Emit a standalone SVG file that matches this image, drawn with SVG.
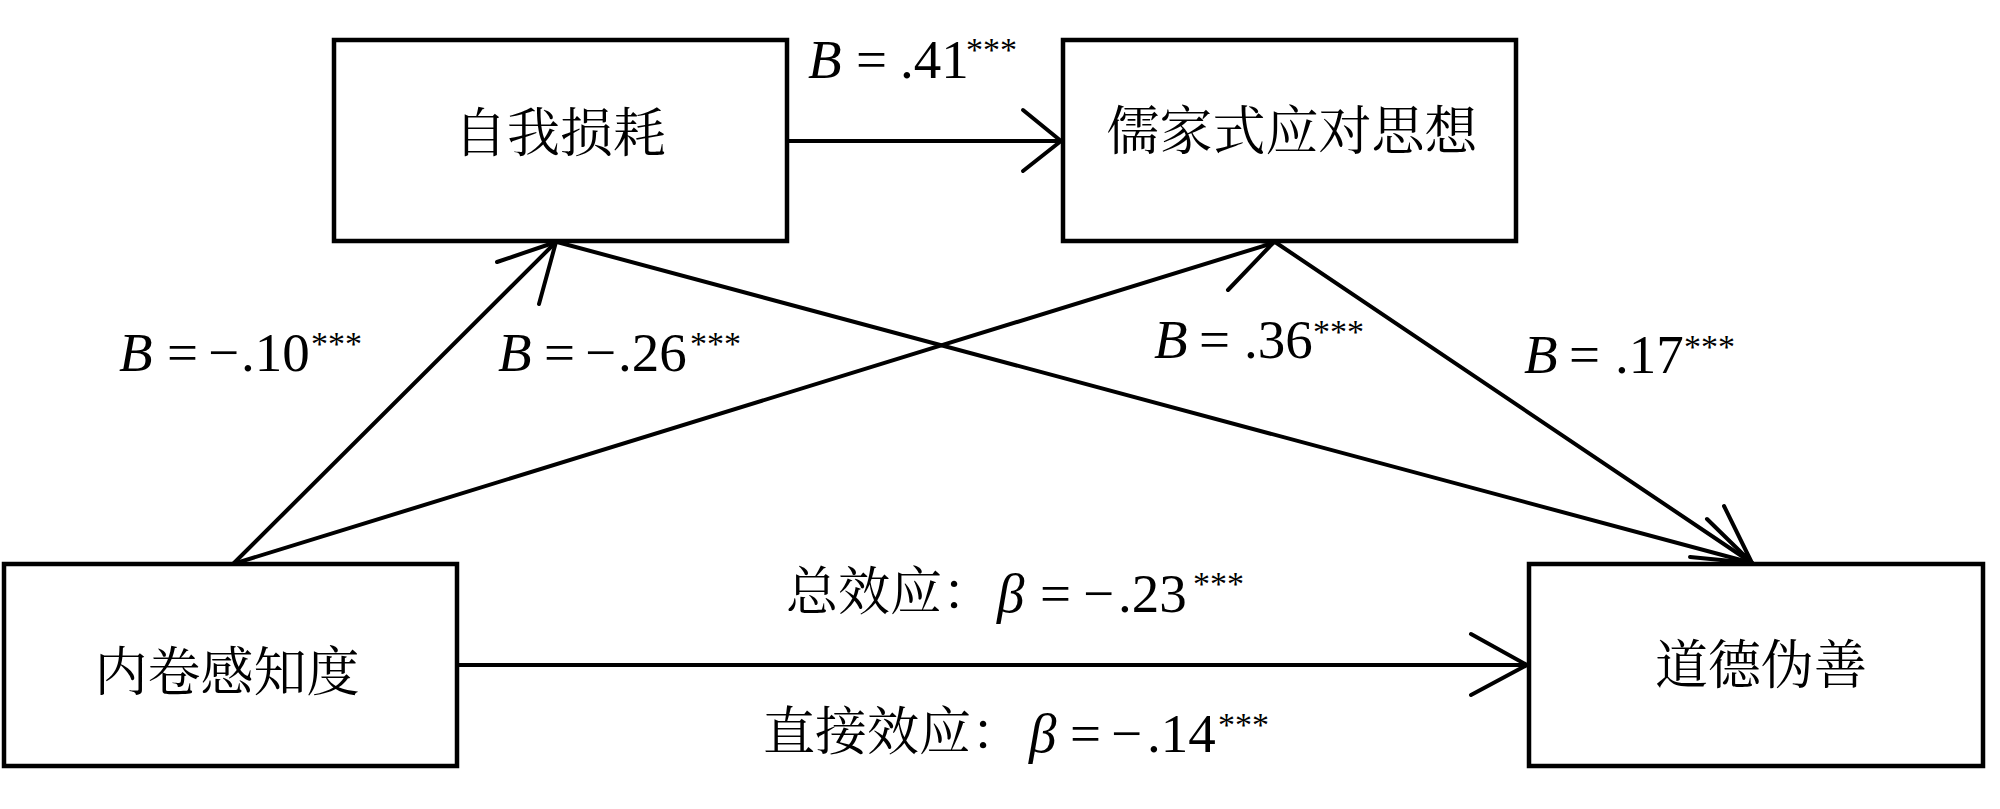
<svg xmlns="http://www.w3.org/2000/svg" width="2000" height="809" viewBox="0 0 2000 809">
<style>
.box{fill:#fff;stroke:#000;stroke-width:4.5}
.cn{font-family:"Noto Serif CJK SC","Noto Sans CJK SC",serif;font-size:53px;fill:#000}
.cl{font-family:"Noto Serif CJK SC","Noto Sans CJK SC",serif;font-size:52px;fill:#000}
.num{font-family:"Liberation Serif","Times New Roman",serif;font-size:55px;fill:#000}
.i{font-style:italic}
.sup{font-size:34px}
.ln{fill:none;stroke:#000;stroke-width:4;stroke-linecap:round;stroke-linejoin:round}
</style>
<rect width="2000" height="809" fill="#fff"/>
<g id="connectors">
  <line class="ln" x1="787" y1="141" x2="1061" y2="141"/>
  <polyline class="ln" points="1023,110 1061,141 1023,171"/>
  <line class="ln" x1="233" y1="564" x2="556" y2="242"/>
  <polyline class="ln" points="497,262 556,242 539,304"/>
  <line class="ln" x1="233" y1="564" x2="1273" y2="243"/>
  <polyline class="ln" points="1209,233 1273,243 1228,290"/>
  <line class="ln" x1="557" y1="242" x2="1752" y2="563"/>
  <polyline class="ln" points="1690,557 1752,563 1692,578"/>
  <line class="ln" x1="1275" y1="242" x2="1752" y2="563"/>
  <polyline class="ln" points="1707,519 1752,563 1724,506"/>
  <line class="ln" x1="457" y1="665" x2="1527" y2="665"/>
  <polyline class="ln" points="1471,634 1527,665 1471,695"/>
</g>
<g id="node-ego">
  <rect class="box" x="334" y="40" width="453" height="201"/>
  <text class="cn" x="560" y="152" text-anchor="middle">自我损耗</text>
</g>
<g id="node-confucian">
  <rect class="box" x="1063" y="40" width="453" height="201"/>
  <text class="cn" x="1292" y="150" text-anchor="middle">儒家式应对思想</text>
</g>
<g id="node-involution">
  <rect class="box" x="4" y="564" width="453" height="202"/>
  <text class="cn" x="227" y="691" text-anchor="middle">内卷感知度</text>
</g>
<g id="node-hypocrisy">
  <rect class="box" x="1529" y="564" width="454" height="202"/>
  <text class="cn" x="1761" y="684" text-anchor="middle">道德伪善</text>
</g>
<g id="labels">
  <text class="num" x="808" y="78"><tspan class="i">B</tspan><tspan x="856">=</tspan><tspan x="900">.41</tspan><tspan class="sup" x="966" y="61">***</tspan></text>
  <text class="num" x="119" y="371"><tspan class="i">B</tspan><tspan x="167">=</tspan><tspan x="208">−</tspan><tspan x="241">.10</tspan><tspan class="sup" x="311" y="355">***</tspan></text>
  <text class="num" x="498" y="371"><tspan class="i">B</tspan><tspan x="544">=</tspan><tspan x="585">−</tspan><tspan x="618">.26</tspan><tspan class="sup" x="690" y="355">***</tspan></text>
  <text class="num" x="1154" y="358"><tspan class="i">B</tspan><tspan x="1199">=</tspan><tspan x="1244">.36</tspan><tspan class="sup" x="1313" y="343">***</tspan></text>
  <text class="num" x="1524" y="373"><tspan class="i">B</tspan><tspan x="1569">=</tspan><tspan x="1615">.17</tspan><tspan class="sup" x="1684" y="358">***</tspan></text>
  <text class="cl" x="786" y="610">总效应：<tspan class="num i" x="997" y="612">β</tspan><tspan class="num" x="1040" y="612">=</tspan><tspan class="num" x="1083" y="612">−</tspan><tspan class="num" x="1118" y="612">.23</tspan><tspan class="num sup" x="1193" y="595">***</tspan></text>
  <text class="cl" x="763" y="750">直接效应：<tspan class="num i" x="1029" y="752">β</tspan><tspan class="num" x="1070" y="752">=</tspan><tspan class="num" x="1111" y="752">−</tspan><tspan class="num" x="1147" y="752">.14</tspan><tspan class="sup num" x="1218" y="736">***</tspan></text>
</g>
</svg>
